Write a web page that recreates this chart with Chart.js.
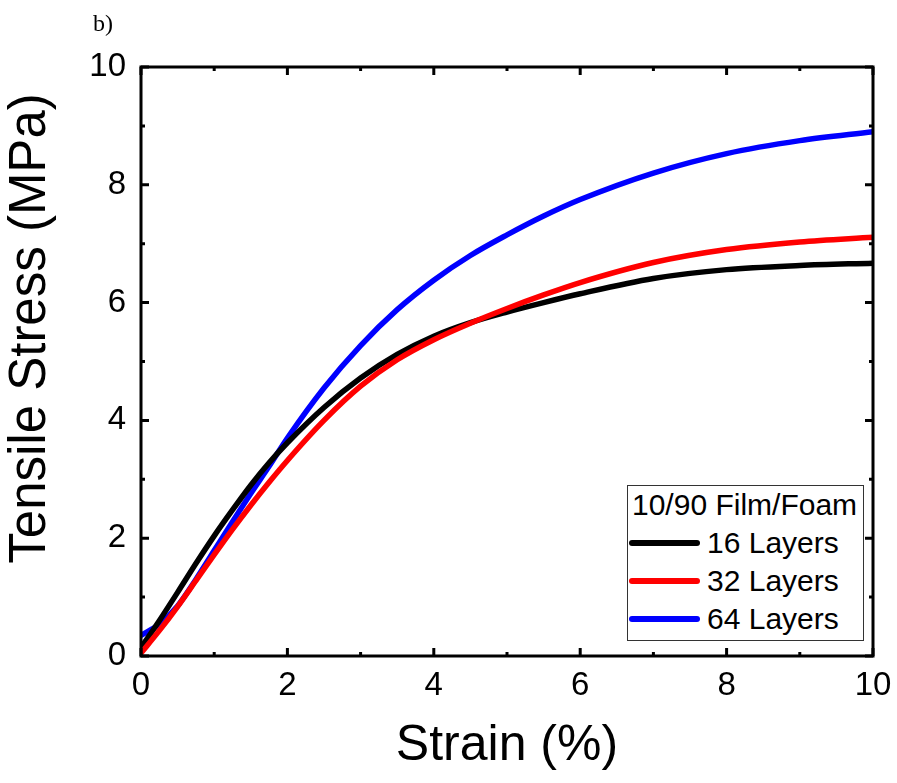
<!DOCTYPE html>
<html>
<head>
<meta charset="utf-8">
<script src="https://cdn.jsdelivr.net/npm/chart.js@4.4.1/dist/chart.umd.min.js"></script>
<style>
html,body{margin:0;padding:0;background:#fff;}
#wrap{position:relative;width:897px;height:783px;}
#panel{position:absolute;left:93px;top:10px;font-family:"Liberation Serif","Times New Roman",serif;font-size:24px;color:#000;}
#legend{position:absolute;left:627px;top:485px;width:235px;height:154px;border:1px solid #333;background:#fff;font-family:"Liberation Sans",Arial,sans-serif;font-size:30px;color:#000;}
#legend .ttl{position:absolute;left:4px;top:0px;height:38px;line-height:38px;white-space:nowrap;}
#legend .row{position:absolute;left:0;height:38px;width:235px;}
#legend .swatch{position:absolute;left:1px;top:16px;width:71px;height:6px;border-radius:3px;}
#legend .lbl{position:absolute;left:79px;top:0;line-height:38px;white-space:nowrap;}
</style>
</head>
<body>
<div id="wrap">
<canvas id="c" width="897" height="783"></canvas>
<div id="panel">b)</div>
<div id="legend"></div>
</div>
<script>
// ---- data ----
const strain = [0, 0.25, 0.5, 0.75, 1, 1.25, 1.5, 1.75, 2, 2.5, 3, 3.5, 4, 4.5, 5, 5.5, 6, 7, 8, 9, 10];
const stress16 = [0.14, 0.6, 1.08, 1.57, 2.04, 2.48, 2.9, 3.28, 3.62, 4.22, 4.72, 5.12, 5.43, 5.66, 5.84, 6.0, 6.15, 6.41, 6.56, 6.63, 6.67];
const stress32 = [0.05, 0.43, 0.84, 1.28, 1.72, 2.15, 2.56, 2.95, 3.32, 4.0, 4.58, 5.03, 5.37, 5.65, 5.9, 6.13, 6.34, 6.68, 6.9, 7.03, 7.11];
const stress64 = [0.35, 0.54, 0.85, 1.3, 1.79, 2.28, 2.76, 3.22, 3.7, 4.55, 5.27, 5.88, 6.38, 6.8, 7.15, 7.47, 7.75, 8.2, 8.53, 8.75, 8.9];
const seriesLabels = ['16 Layers', '32 Layers', '64 Layers'];
const legendTitle = '10/90 Film/Foam';
const xTicks = [0, 2, 4, 6, 8, 10];
const yTicks = [0, 2, 4, 6, 8, 10];
const xTitle = 'Strain (%)';
const yTitle = 'Tensile Stress (MPa)';

const pts = arr => strain.map((x, i) => ({x: x, y: arr[i]}));

const FONT = '"Liberation Sans", Arial, sans-serif';

// frame with inward major/minor ticks on all four sides
const framePlugin = {
  id: 'frame',
  afterDraw(chart) {
    const {ctx, chartArea: a, scales: {x, y}} = chart;
    ctx.save();
    ctx.strokeStyle = '#000';
    ctx.lineWidth = 3;
    ctx.lineCap = 'butt';
    ctx.beginPath();
    for (let v = 0; v <= 10; v += 1) {
      const len = (v % 2 === 0) ? 8 : 4;
      const px = x.getPixelForValue(v);
      ctx.moveTo(px, a.bottom); ctx.lineTo(px, a.bottom - len);
      ctx.moveTo(px, a.top); ctx.lineTo(px, a.top + len);
      const py = y.getPixelForValue(v);
      ctx.moveTo(a.left, py); ctx.lineTo(a.left + len, py);
      ctx.moveTo(a.right, py); ctx.lineTo(a.right - len, py);
    }
    ctx.stroke();
    ctx.strokeRect(a.left, a.top, a.right - a.left, a.bottom - a.top);
    ctx.restore();
  }
};

// shift the y-axis title upward like in the reference
const titleShift = {
  id: 'titleShift',
  afterLayout(chart) {
    const s = chart.scales.y;
    const orig = Object.getPrototypeOf(s).drawTitle;
    s.drawTitle = function () {
      const t = this.top, b = this.bottom;
      this.top = t - 33; this.bottom = b - 33;
      orig.call(this);
      this.top = t; this.bottom = b;
    };
  }
};

const chart = new Chart(document.getElementById('c'), {
  type: 'line',
  data: {
    datasets: [
      {label: seriesLabels[0], data: pts(stress16), borderColor: '#000000', backgroundColor: '#000000', order: 1},
      {label: seriesLabels[1], data: pts(stress32), borderColor: '#ff0000', backgroundColor: '#ff0000', order: 0},
      {label: seriesLabels[2], data: pts(stress64), borderColor: '#0000ff', backgroundColor: '#0000ff', order: 2}
    ]
  },
  options: {
    responsive: false,
    animation: false,
    devicePixelRatio: 1,
    layout: {padding: {top: 67, right: 24, left: 0, bottom: 0}},
    elements: {
      line: {borderWidth: 5.5, cubicInterpolationMode: 'monotone', borderCapStyle: 'round', borderJoinStyle: 'round', fill: false},
      point: {radius: 0, hoverRadius: 0}
    },
    plugins: {legend: {display: false}, tooltip: {enabled: false}, title: {display: false}},
    scales: {
      x: {
        type: 'linear', min: 0, max: 10,
        afterFit(s) { s.height = 127; s.paddingLeft = 0; s.paddingRight = 0; },
        afterBuildTicks(s) { s.ticks = xTicks.map(v => ({value: v})); },
        grid: {display: false, drawTicks: false},
        border: {display: false},
        ticks: {color: '#000', font: {family: FONT, size: 33}, padding: 10, maxRotation: 0},
        title: {display: true, text: xTitle, color: '#000', font: {family: FONT, size: 50}, padding: {top: 0, bottom: 7}}
      },
      y: {
        type: 'linear', min: 0, max: 10,
        afterFit(s) { s.width = 141; s.paddingTop = 0; s.paddingBottom = 0; },
        afterBuildTicks(s) { s.ticks = yTicks.map(v => ({value: v})); },
        grid: {display: false, drawTicks: false},
        border: {display: false},
        ticks: {color: '#000', font: {family: FONT, size: 33}, padding: 15},
        title: {display: true, text: yTitle, color: '#000', font: {family: FONT, size: 51}, padding: {top: 0, bottom: 0}}
      }
    }
  },
  plugins: [framePlugin, titleShift]
});

// HTML legend generated from the chart's datasets
(function buildLegend() {
  const box = document.getElementById('legend');
  const t = document.createElement('div');
  t.className = 'ttl';
  t.textContent = legendTitle;
  box.appendChild(t);
  chart.data.datasets.forEach((ds, i) => {
    const row = document.createElement('div');
    row.className = 'row';
    row.style.top = (38 + i * 38) + 'px';
    const sw = document.createElement('div');
    sw.className = 'swatch';
    sw.style.background = ds.borderColor;
    const lb = document.createElement('div');
    lb.className = 'lbl';
    lb.textContent = ds.label;
    row.appendChild(sw); row.appendChild(lb);
    box.appendChild(row);
  });
})();
</script>
</body>
</html>
